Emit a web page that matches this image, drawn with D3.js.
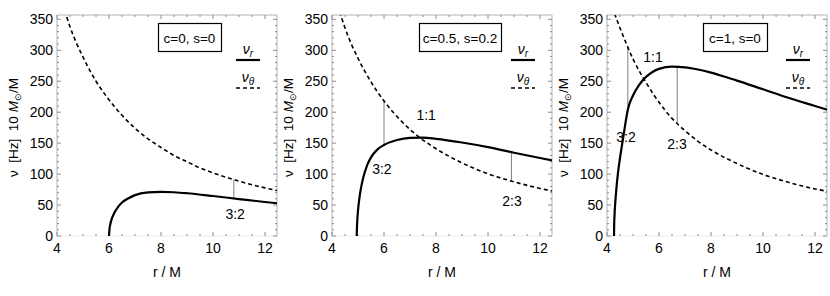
<!DOCTYPE html>
<html>
<head>
<meta charset="utf-8">
<script src="https://cdn.jsdelivr.net/npm/d3@7"></script>
<style>
  body { margin: 0; background: #fff; }
  svg { display: block; font-family: "Liberation Sans", Arial, Helvetica, sans-serif; }
</style>
</head>
<body>
<svg id="chart" width="830" height="296"></svg>
<script>
// parameters written in each panel's box
const boxLabels = ["c=0, s=0", "c=0.5, s=0.2", "c=1, s=0"];
const xTicks = [4, 6, 8, 10, 12];
const yTicks = [0, 50, 100, 150, 200, 250, 300, 350];

// radial epicyclic frequency nu_r, [r/M, Hz]
const nuR_a = [[6, 0], [6.02, 12], [6.05, 19], [6.1, 27], [6.2, 37], [6.35, 47], [6.5, 54], [6.75, 61], [7, 66],
  [7.5, 70.4], [8, 71.4], [8.5, 70.7], [9, 69.1], [10, 64.6], [11, 59.7], [12, 54.9], [12.5, 52.7]];
const nuR_b = [[4.95, 0], [4.96, 14], [4.98, 30], [5.0, 41], [5.05, 60], [5.1, 74], [5.2, 94], [5.35, 114], [5.5, 127],
  [5.75, 140], [6, 147], [6.5, 155], [7, 158.5], [7.5, 159], [8, 157], [9, 151], [10, 143.5], [11, 134.5], [12, 126], [12.5, 122]];
const nuR_c = [[4.27, 0], [4.275, 16], [4.29, 34], [4.32, 55], [4.36, 76], [4.42, 101], [4.5, 126], [4.6, 153], [4.7, 180],
  [4.8, 204], [5.0, 227], [5.25, 245], [5.5, 257], [5.75, 265], [6, 270], [6.5, 273.5], [7, 272.5], [7.5, 269], [8, 264],
  [9, 251], [10, 237], [11, 223], [12, 210], [12.5, 203.5]];

// vertical epicyclic frequency nu_theta
const nuTh_a = [[4.2, 375], [4.35, 357], [4.5, 338], [5, 289], [5.5, 250], [6, 220], [6.5, 195], [7, 174], [7.5, 157],
  [8, 143], [8.5, 130], [9, 120], [9.5, 110], [10, 102], [10.5, 95], [11, 88.6], [11.5, 82.8], [12, 77.7], [12.5, 73.1]];
const nuTh_b = [[4.2, 373], [4.35, 355], [4.5, 336], [5, 287], [5.5, 249], [6, 218], [6.5, 193], [7, 172], [7.5, 155],
  [8, 141], [9, 118], [10, 100.5], [11, 87.5], [12, 76.8], [12.5, 72.3]];
const nuTh_c = [[4.2, 370], [4.4, 347], [4.5, 336], [4.75, 310], [5, 286], [5.5, 248], [6, 216], [6.5, 190], [7, 170],
  [7.5, 153], [8, 139], [9, 117], [10, 99.5], [11, 86.5], [12, 76], [12.5, 72]];

// resonances: [r, nu low, nu high, ratio]
const res_a = [[10.8, 60.7, 91, "3:2"]];
const res_b = [[6.0, 146, 219, "3:2"], [10.9, 89, 134.5, "2:3"], [7.4, null, null, "1:1"]];
const res_c = [[4.8, 204, 305, "3:2"], [6.7, 273, 182, "2:3"], [5.45, null, null, "1:1"]];

const nuR = [nuR_a, nuR_b, nuR_c];
const nuTh = [nuTh_a, nuTh_b, nuTh_c];
const resonances = [res_a, res_b, res_c];

// where the ratio labels sit, in data units
const labelPos = [
  {"3:2": [10.85, 35]},
  {"3:2": [5.92, 108], "2:3": [10.92, 57], "1:1": [7.62, 195]},
  {"3:2": [4.73, 160], "2:3": [6.69, 148], "1:1": [5.77, 289]}
];
const boxPos = [[158, 221], [419, 501], [703, 767]];

const svg = d3.select("#chart");
const W = 220, yTop = 15, yBottom = 236;
const frameCol = "#b3b3b3", tickCol = "#8c8c8c";

function drawPanel(i, left) {
  const x = d3.scaleLinear().domain([4, 12.46]).range([left, left + W]);
  const y = d3.scaleLinear().domain([0, 357]).range([yBottom, yTop]);
  const g = svg.append("g");

  const clipId = "clip" + i;
  g.append("clipPath").attr("id", clipId)
    .append("rect").attr("x", left).attr("y", yTop).attr("width", W).attr("height", yBottom - yTop);

  // frame
  g.append("line").attr("x1", left).attr("x2", left).attr("y1", yTop).attr("y2", yBottom).attr("stroke", frameCol);
  g.append("line").attr("x1", left + W).attr("x2", left + W).attr("y1", yTop).attr("y2", yBottom).attr("stroke", frameCol);
  g.append("line").attr("x1", left).attr("x2", left + W).attr("y1", yTop).attr("y2", yTop).attr("stroke", frameCol);
  g.append("line").attr("x1", left).attr("x2", left + W).attr("y1", yBottom).attr("y2", yBottom).attr("stroke", "#ececec");

  // ticks on all four sides, pointing inward
  const xMinor = d3.range(4, 12.46, 0.5);
  const yMinor = d3.range(0, 357, 10);
  xMinor.forEach(v => {
    const len = xTicks.includes(v) ? 4 : 2;
    g.append("line").attr("x1", x(v)).attr("x2", x(v)).attr("y1", yBottom).attr("y2", yBottom - len).attr("stroke", tickCol);
    g.append("line").attr("x1", x(v)).attr("x2", x(v)).attr("y1", yTop).attr("y2", yTop + len).attr("stroke", tickCol);
  });
  yMinor.forEach(v => {
    const len = yTicks.includes(v) ? 4 : 2;
    g.append("line").attr("x1", left).attr("x2", left + len).attr("y1", y(v)).attr("y2", y(v)).attr("stroke", tickCol);
    g.append("line").attr("x1", left + W).attr("x2", left + W - len).attr("y1", y(v)).attr("y2", y(v)).attr("stroke", tickCol);
  });

  g.selectAll(".xl").data(xTicks).enter().append("text")
    .attr("x", d => x(d)).attr("y", 253)
    .attr("text-anchor", "middle").attr("font-size", 14).text(d => d);
  g.selectAll(".yl").data(yTicks).enter().append("text")
    .attr("x", left - 4).attr("y", d => y(d) + 5)
    .attr("text-anchor", "end").attr("font-size", 14).text(d => d);

  g.append("text").attr("x", left + W / 2).attr("y", 277)
    .attr("text-anchor", "middle").attr("font-size", 14).text("r / M");

  const yt = g.append("text")
    .attr("transform", `translate(${left - 39},${(yTop + yBottom) / 2 + 2}) rotate(-90)`)
    .attr("text-anchor", "middle").attr("font-size", 13.5);
  yt.append("tspan").text("ν\u00a0\u00a0[Hz]\u00a0\u00a010\u00a0");
  yt.append("tspan").attr("font-style", "italic").text("M");
  yt.append("tspan").attr("font-size", 9).attr("baseline-shift", "-30%").text("⊙");
  yt.append("tspan").text("/M");

  const line = d3.line().x(d => x(d[0])).y(d => y(d[1])).curve(d3.curveMonotoneX);
  const plot = g.append("g").attr("clip-path", `url(#${clipId})`);

  // resonance markers
  resonances[i].filter(d => d[1] !== null).forEach(d => {
    plot.append("line").attr("x1", x(d[0])).attr("x2", x(d[0]))
      .attr("y1", y(d[1])).attr("y2", y(d[2]))
      .attr("stroke", "#808080").attr("stroke-width", 1);
  });

  plot.append("path").datum(nuTh[i]).attr("d", line)
    .attr("fill", "none").attr("stroke", "#000").attr("stroke-width", 1.6).attr("stroke-dasharray", "4,3");
  plot.append("path").datum(nuR[i]).attr("d", line)
    .attr("fill", "none").attr("stroke", "#000").attr("stroke-width", 2.2);

  resonances[i].forEach(d => {
    const p = labelPos[i][d[3]];
    g.append("text").attr("x", x(p[0])).attr("y", y(p[1]) + 5)
      .attr("text-anchor", "middle").attr("font-size", 14).text(d[3]);
  });

  // parameter box
  const b = boxPos[i];
  g.append("rect").attr("x", b[0] + 0.5).attr("y", 23.5).attr("width", b[1] - b[0]).attr("height", 28)
    .attr("fill", "#fff").attr("stroke", "#000").attr("stroke-width", 1.2);
  g.append("text").attr("x", (b[0] + b[1]) / 2).attr("y", 42.5)
    .attr("text-anchor", "middle").attr("font-size", 13.5).text(boxLabels[i]);

  // legend
  const lx = left + 179;
  const l1 = g.append("text").attr("x", lx + 12).attr("y", 54).attr("text-anchor", "middle").attr("font-size", 14);
  l1.append("tspan").attr("font-style", "italic").text("ν");
  l1.append("tspan").attr("font-size", 10).attr("font-style", "italic").attr("dy", 3).text("r");
  g.append("line").attr("x1", lx).attr("x2", lx + 24).attr("y1", 60).attr("y2", 60)
    .attr("stroke", "#000").attr("stroke-width", 2.2);
  const l2 = g.append("text").attr("x", lx + 12).attr("y", 82).attr("text-anchor", "middle").attr("font-size", 14);
  l2.append("tspan").attr("font-style", "italic").text("ν");
  l2.append("tspan").attr("font-size", 10).attr("font-style", "italic").attr("dy", 3).text("θ");
  g.append("line").attr("x1", lx).attr("x2", lx + 24).attr("y1", 88).attr("y2", 88)
    .attr("stroke", "#000").attr("stroke-width", 1.6).attr("stroke-dasharray", "4,3");
}

[57, 332, 607].forEach((left, i) => drawPanel(i, left));
</script>
</body>
</html>
